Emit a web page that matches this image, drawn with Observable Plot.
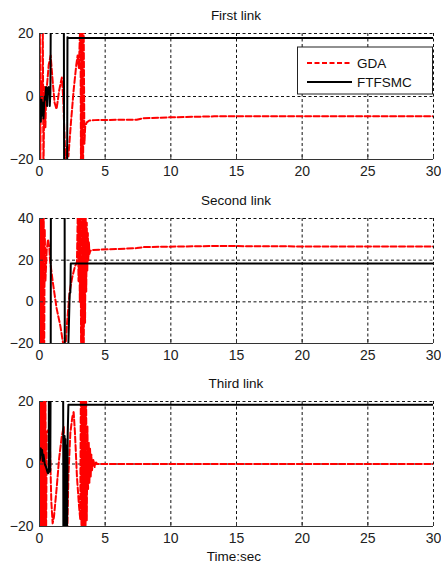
<!DOCTYPE html>
<html>
<head>
<meta charset="utf-8">
<script src="https://cdn.jsdelivr.net/npm/d3@7"></script>
<script src="https://cdn.jsdelivr.net/npm/@observablehq/plot@0.6"></script>
<style>
  html, body { margin: 0; padding: 0; background: #fff; }
  #wrap { position: relative; width: 441px; height: 564px; background: #fff; overflow: hidden; }
  #wrap > svg.panel { position: absolute; left: 0; }
  #overlay { position: absolute; left: 0; top: 0; pointer-events: none; }
</style>
</head>
<body>
<div id="wrap"></div>
<script>
// ---------- data (time in sec, value) ----------
const xTicks = [0, 5, 10, 15, 20, 25, 30];
const yTicks1 = [-20, 0, 20];
const yTicks2 = [-20, 0, 20, 40];
const yTicks3 = [-20, 0, 20];
const titles = ["First link", "Second link", "Third link"];
const seriesNames = ["GDA", "FTFSMC"];
const xLabel = "Time:sec";

const gda1 = [[0,-25],[0.03,25],[0.06,-25],[0.1,5],[0.13,-3],[0.17,4],[0.2,-5],[0.25,25],[0.3,-25],[0.35,-5],[0.4,3],[0.45,-10],[0.5,0],[0.6,5],[0.7,10],[0.85,13],[1.0,5],[1.15,-2],[1.3,-4],[1.5,2],[1.7,6],[1.8,0],[1.9,-12],[2.0,-22],[2.1,-16],[2.2,-19],[2.4,-8],[2.6,2],[2.8,10],[2.9,13],[3.0,9],[3.05,16],[3.12,25],[3.16,-25],[3.2,25],[3.24,-25],[3.28,25],[3.32,-25],[3.36,25],[3.42,-15],[3.48,-9.5],[3.6,-8.2],[3.8,-7.6],[4.2,-7.5],[6,-7.4],[7.4,-7.4],[7.9,-6.9],[10,-6.6],[13.3,-6.3],[20,-6.3],[30,-6.3]];
const ft1 = [[0,0],[0.05,-3],[0.1,-8],[0.15,-1],[0.2,-6],[0.25,-2],[0.3,-7],[0.35,-3],[0.4,0],[0.45,-1],[0.5,3],[0.55,2.5],[0.58,-3],[0.62,2.5],[0.7,3],[0.75,2.5],[0.78,-3],[0.83,1],[0.87,35],[1.85,35],[1.88,-35],[2.1,-35],[2.13,18.8],[2.2,18.6],[30,18.6]];

const gda2 = [[0,-25],[0.03,45],[0.06,-25],[0.09,45],[0.12,-25],[0.16,45],[0.2,-25],[0.24,45],[0.28,-25],[0.32,45],[0.36,-20],[0.4,35],[0.45,10],[0.55,25],[0.65,30],[0.75,26],[0.8,20],[1.0,10],[1.3,-3],[1.6,-12],[1.85,-22],[1.95,-25],[2.1,-10],[2.3,5],[2.5,12],[2.7,17],[2.85,19],[2.92,45],[2.97,10],[3.02,45],[3.07,0],[3.12,45],[3.17,-25],[3.22,45],[3.27,-25],[3.32,45],[3.37,-25],[3.42,45],[3.47,-10],[3.52,42],[3.56,5],[3.6,38],[3.64,15],[3.68,33],[3.72,20],[3.76,29],[3.8,23],[3.87,24.5],[4,24.9],[6,25.4],[7.4,25.8],[8,26.3],[13.3,26.8],[20,26.6],[30,26.6]];
const ft2 = [[0,-50],[0.85,-50],[0.87,70],[1.91,70],[1.93,-50],[2.18,-50],[2.2,-20],[2.25,-8],[2.3,4],[2.35,4.5],[2.38,18.4],[30,18.4]];

const gda3 = [[0,-25],[0.03,25],[0.06,-25],[0.09,25],[0.12,-25],[0.15,25],[0.18,-25],[0.21,25],[0.24,-25],[0.27,25],[0.3,-25],[0.33,25],[0.36,-25],[0.39,25],[0.42,-25],[0.45,25],[0.5,-25],[0.55,10],[0.7,11],[0.8,5],[0.9,-12],[1.0,-19],[1.1,-17],[1.3,-8],[1.5,2],[1.7,9],[1.85,12],[1.95,-25],[2.1,-25],[2.2,-4],[2.35,10],[2.5,15],[2.6,16.6],[2.7,10],[2.85,-4],[3.0,-13],[3.1,-17.6],[3.15,25],[3.2,-25],[3.25,25],[3.3,-25],[3.35,25],[3.4,-25],[3.45,25],[3.5,-25],[3.55,22],[3.6,-18],[3.65,12],[3.7,-8],[3.75,7],[3.8,-6],[3.85,5],[3.9,-4],[3.95,3],[4.0,-2],[4.1,1.5],[4.2,-1],[4.3,0.5],[4.4,0],[30,0]];
const ft3 = [[0,1],[0.05,2],[0.1,5],[0.15,3],[0.2,4.5],[0.25,1],[0.3,3],[0.4,0],[0.5,-1],[0.6,-2.5],[0.65,-3],[0.7,-2],[0.72,30],[0.76,30],[0.78,-2.5],[0.82,-2],[0.85,30],[1.8,30],[1.82,-30],[1.85,8],[1.88,-30],[1.91,9],[1.94,-30],[1.97,8],[2.0,-30],[2.03,6],[2.06,-30],[2.09,-25],[2.15,10],[2.2,19],[30,19]];

// ---------- layout ----------
const W = 441;
const FONT = "'Liberation Sans', Arial, Helvetica, sans-serif";
const RED = "#ff0000";
const panels = [
  {top: 0,   h: 180, mT: 33, mB: 21, domain: [-20, 20], ticks: yTicks1, gda: gda1, ft: ft1},
  {top: 185, h: 180, mT: 33, mB: 22, domain: [-20, 40], ticks: yTicks2, gda: gda2, ft: ft2},
  {top: 368, h: 180, mT: 33, mB: 22, domain: [-20, 20], ticks: yTicks3, gda: gda3, ft: ft3}
];
const mL = 39, mR = 8;

const wrap = document.getElementById("wrap");

panels.forEach((p) => {
  const innerH = p.h - p.mT - p.mB;
  const innerW = W - mL - mR;
  const gridY = p.ticks.filter(d => d !== p.domain[0]);
  const gridX = xTicks.filter(d => d !== 0);
  const chart = Plot.plot({
    width: W,
    height: p.h,
    marginLeft: mL,
    marginRight: mR,
    marginTop: p.mT,
    marginBottom: p.mB,
    style: {fontSize: "14px", fontFamily: FONT, color: "#222", background: "transparent", overflow: "visible"},
    x: {domain: [0, 30], ticks: xTicks, tickSize: 0, tickPadding: 7, label: null},
    y: {domain: p.domain, ticks: p.ticks, tickSize: 0, tickPadding: 6, label: null},
    marks: [
      Plot.ruleX(gridX, {stroke: "#111", strokeWidth: 1, strokeDasharray: "3,2.5"}),
      Plot.ruleY(gridY, {stroke: "#111", strokeWidth: 1, strokeDasharray: "3,2.5"}),
      Plot.line(p.gda, {x: d => d[0], y: d => d[1], stroke: RED, strokeWidth: 2, strokeDasharray: "6,2.5", clip: true}),
      Plot.line(p.ft, {x: d => d[0], y: d => d[1], stroke: "#000", strokeWidth: 2, clip: true}),
      Plot.ruleX([0], {stroke: "#333", strokeWidth: 1}),
      Plot.ruleY([p.domain[0]], {stroke: "#333", strokeWidth: 1}),
      Plot.tickX(xTicks, {x: d => d, insetTop: innerH - 4, stroke: "#333"}),
      Plot.tickY(p.ticks, {y: d => d, insetRight: innerW - 4, stroke: "#333"})
    ]
  });
  chart.classList.add("panel");
  chart.style.top = p.top + "px";
  wrap.appendChild(chart);
});

// ---------- overlay: titles, x label, legend ----------
const ns = "http://www.w3.org/2000/svg";
const ov = document.createElementNS(ns, "svg");
ov.setAttribute("id", "overlay");
ov.setAttribute("width", W);
ov.setAttribute("height", 564);
function el(tag, attrs, text) {
  const e = document.createElementNS(ns, tag);
  for (const k in attrs) e.setAttribute(k, attrs[k]);
  if (text != null) e.textContent = text;
  ov.appendChild(e);
  return e;
}
const titleY = [20, 205, 388];
titles.forEach((t, i) => {
  el("text", {x: 236, y: titleY[i], "text-anchor": "middle", "font-family": FONT, "font-size": 13.5, fill: "#111"}, t);
});
el("text", {x: 234, y: 561, "text-anchor": "middle", "font-family": FONT, "font-size": 13.5, fill: "#111"}, xLabel);

// legend
el("rect", {x: 297.5, y: 47, width: 135, height: 47, fill: "#fff", stroke: "#222", "stroke-width": 1});
el("line", {x1: 307, x2: 352, y1: 63, y2: 63, stroke: RED, "stroke-width": 2, "stroke-dasharray": "5,2.5"});
el("line", {x1: 307, x2: 352, y1: 82, y2: 82, stroke: "#000", "stroke-width": 2});
el("text", {x: 357, y: 63, "dominant-baseline": "central", "font-family": FONT, "font-size": 13.5, fill: "#111"}, seriesNames[0]);
el("text", {x: 357, y: 82, "dominant-baseline": "central", "font-family": FONT, "font-size": 13.5, fill: "#111"}, seriesNames[1]);
wrap.appendChild(ov);
</script>
</body>
</html>
